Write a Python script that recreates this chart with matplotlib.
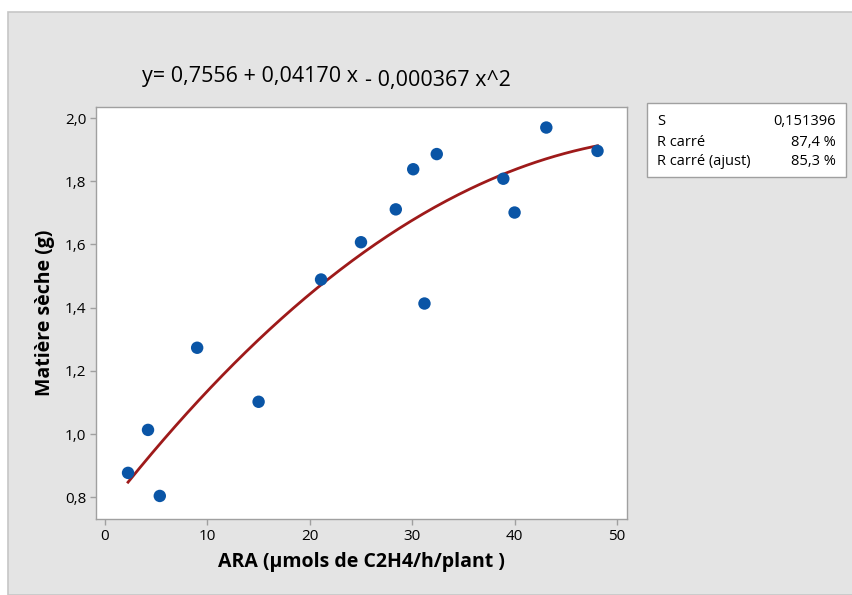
import numpy as np
import matplotlib.pyplot as plt
from matplotlib.patches import Rectangle
from matplotlib.ticker import FuncFormatter

plt.rcParams['font.family'] = ['Open Sans', 'DejaVu Sans']

# data
ara = [2.25, 4.2, 5.35, 9.0, 15.0, 21.1, 25.0, 28.4, 30.1, 31.2, 32.4, 38.9, 40.0, 43.1, 48.1]
ms = [0.877, 1.013, 0.804, 1.273, 1.102, 1.489, 1.607, 1.711, 1.838, 1.413, 1.886, 1.808, 1.701, 1.970, 1.896]
# fitted coefficients (x^2, x, 1) as printed on the chart
coefs = [-0.000367, 0.04170, 0.7556]
stats_names = ['S', 'R carré', 'R carré (ajust)']
stats_vals = ['0,151396', '87,4 %', '85,3 %']

W, H = 852, 595
fig = plt.figure(figsize=(W / 100, H / 100), dpi=100, facecolor='white')

def fx(px):
    return px / W

def fy(py):
    return 1 - py / H

# grey panel behind everything
bg = Rectangle((fx(8), 0), 1, fy(12), transform=fig.transFigure,
               facecolor='#e4e4e4', edgecolor='#c6c6c6', lw=1.2, zorder=-5)
fig.patches.append(bg)

ax = fig.add_axes([fx(96), fy(519), fx(627) - fx(96), fy(107) - fy(519)])
ax.set_zorder(2)
ax.set_facecolor('white')

xs = np.linspace(min(ara), max(ara), 200)
ax.plot(xs, np.polyval(coefs, xs), color='#9e1a1a', lw=2.0, zorder=2)
ax.scatter(ara, ms, s=80, color='#0a55a6', edgecolors='none', zorder=3)

ax.set_xlim(-0.88, 50.98)
ax.set_ylim(0.731, 2.035)
ax.set_xticks([0, 10, 20, 30, 40, 50])
ax.set_yticks([0.8, 1.0, 1.2, 1.4, 1.6, 1.8, 2.0])
ax.yaxis.set_major_formatter(FuncFormatter(lambda v, p: f'{v:.1f}'.replace('.', ',')))
ax.tick_params(length=4, width=1, color='#a0a0a0', labelsize=11, pad=3)
for sp in ax.spines.values():
    sp.set_color('#a0a0a0')
    sp.set_linewidth(1)

ax.set_xlabel('ARA (µmols de C2H4/h/plant )', fontsize=14, fontweight='bold', labelpad=6)
ax.set_ylabel('Matière sèche (g)', fontsize=14, fontweight='bold', labelpad=7)

# equation
fig.text(fx(142), fy(82), 'y= 0,7556 + 0,04170 x', fontsize=15.5, va='baseline', ha='left')
fig.text(fx(365), fy(86), '- 0,000367 x^2', fontsize=15.5, va='baseline', ha='left')

# stats box
box = Rectangle((fx(647), fy(177)), fx(846) - fx(647), fy(103) - fy(177),
                transform=fig.transFigure, facecolor='white',
                edgecolor='#a0a0a0', lw=1, zorder=1)
fig.patches.append(box)
for i, (n, v) in enumerate(zip(stats_names, stats_vals)):
    y = fy(122 + 20 * i)
    fig.text(fx(657), y, n, fontsize=10.5, va='center', ha='left')
    fig.text(fx(836), y, v, fontsize=10.5, va='center', ha='right')

fig.savefig('out.png', dpi=100)
